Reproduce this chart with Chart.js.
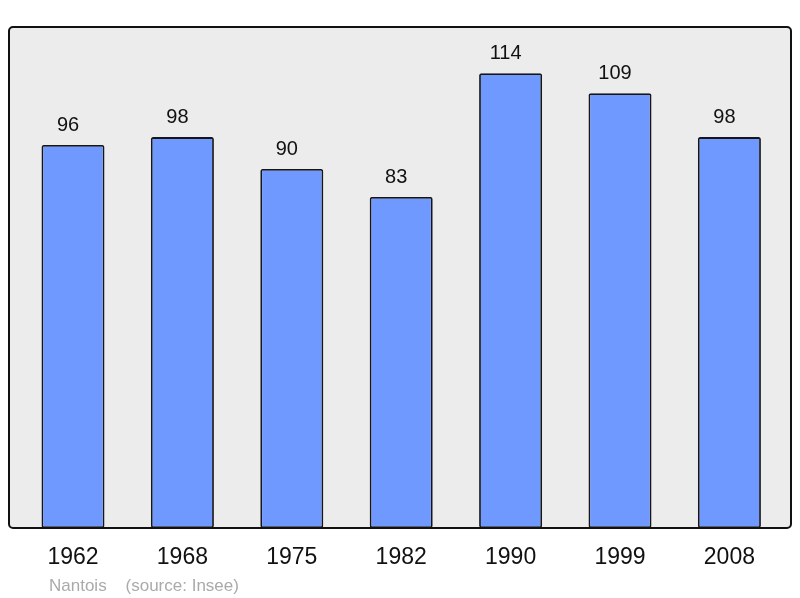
<!DOCTYPE html>
<html>
<head>
<meta charset="utf-8">
<title>Nantois population</title>
<script src="https://cdn.jsdelivr.net/npm/chart.js@4/dist/chart.umd.min.js"></script>
<style>
  html, body { margin: 0; padding: 0; background: #fff; }
  canvas { display: block; }
</style>
</head>
<body>
<canvas id="chart" width="800" height="598"></canvas>
<script>
const years = ["1962", "1968", "1975", "1982", "1990", "1999", "2008"];
const population = [96, 98, 90, 83, 114, 109, 98];
const footerText = "Nantois    (source: Insee)";

const FONT = '"Liberation Sans", Arial, sans-serif';

// grey panel behind the bars, black frame drawn over them
const panel = {
  id: "panel",
  beforeDatasetsDraw(chart) {
    const { ctx, chartArea: a } = chart;
    ctx.save();
    ctx.beginPath();
    ctx.roundRect(a.left, a.top, a.right - a.left, a.bottom - a.top, 4);
    ctx.fillStyle = "#ececec";
    ctx.fill();
    ctx.restore();
  },
  afterDatasetsDraw(chart) {
    const { ctx, chartArea: a } = chart;
    ctx.save();
    ctx.beginPath();
    ctx.roundRect(a.left, a.top, a.right - a.left, a.bottom - a.top, 4);
    ctx.lineWidth = 2;
    ctx.strokeStyle = "#111";
    ctx.stroke();

    // values above each bar (sit slightly left of the bar centre)
    ctx.fillStyle = "#111";
    ctx.font = `20px ${FONT}`;
    ctx.textAlign = "center";
    ctx.textBaseline = "alphabetic";
    chart.getDatasetMeta(0).data.forEach((bar, i) => {
      ctx.fillText(String(population[i]), bar.x - 5, bar.y - 14);
    });

    // source line
    ctx.fillStyle = "#aaaaaa";
    ctx.font = `17px ${FONT}`;
    ctx.textAlign = "left";
    ctx.fillText(footerText, a.left + 40, a.bottom + 63);
    ctx.restore();
  },
};

new Chart(document.getElementById("chart"), {
  type: "bar",
  data: {
    datasets: [{
      data: population.map((v, i) => ({ x: i, y: v })),
      backgroundColor: "#7099ff",
      borderColor: "#161616",
      borderWidth: 1.8,
      borderRadius: 2,
      borderSkipped: false,
      barPercentage: 0.576,
      categoryPercentage: 1,
    }],
  },
  options: {
    responsive: false,
    animation: false,
    devicePixelRatio: 1,
    layout: { padding: { left: 9, right: 9, top: 27, bottom: 0 } },
    plugins: { legend: { display: false }, tooltip: { enabled: false } },
    scales: {
      x: {
        type: "linear",
        offset: false,
        min: -0.585,
        max: 6.563,
        afterBuildTicks: (scale) => { scale.ticks = years.map((_, i) => ({ value: i })); },
        afterFit: (scale) => { scale.height = 70; },
        grid: { display: false, offset: false, drawTicks: false, tickLength: 0 },
        border: { display: false },
        ticks: {
          padding: 16,
          color: "#111",
          font: { family: FONT, size: 23 },
          maxRotation: 0,
          autoSkip: false,
          callback: (value) => years[value] ?? "",
        },
      },
      y: {
        display: false,
        min: 0,
        max: 125.6,
      },
    },
  },
  plugins: [panel],
});
</script>
</body>
</html>
